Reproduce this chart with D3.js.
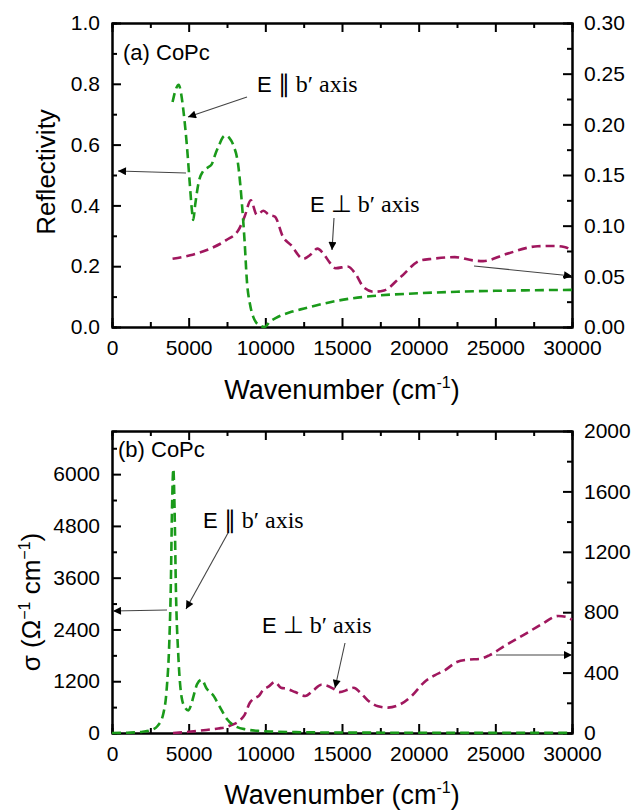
<!DOCTYPE html>
<html>
<head>
<meta charset="utf-8">
<script src="https://cdn.jsdelivr.net/npm/d3@7"></script>
<style>
  body { margin: 0; background: #fff; }
  text { font-family: "Liberation Sans", Arial, sans-serif; fill: #000; }
  .serif { font-family: "Liberation Serif", "Times New Roman", serif; }
  .axis path, .axis line { stroke: #000; stroke-width: 2; }
  .axis text { font-size: 21px; }
</style>
</head>
<body>
<script>
var width = 634,
  height = 810;

// x range shared by both panels
var xDomain = [0, 30000],
  xTicks = [0, 5000, 10000, 15000, 20000, 25000, 30000];

// (a) reflectivity, E || b' (left axis)
var reflParX = [3950, 4150, 4350, 4500, 4650, 4870, 5090, 5200, 5300, 5420, 5670, 5950, 6250, 6500, 6750, 7000, 7200, 7400, 7650, 7900, 8250, 8450, 8650, 8800, 9000, 9200, 9400, 9650, 9950, 10300, 10700, 11700, 12300, 13300, 15100, 17000, 20000, 22500, 25000, 27500, 30000];
var reflParY = [0.74, 0.78, 0.797, 0.77, 0.715, 0.605, 0.46, 0.39, 0.352, 0.40, 0.48, 0.513, 0.525, 0.535, 0.57, 0.60, 0.622, 0.63, 0.622, 0.60, 0.525, 0.42, 0.28, 0.15, 0.075, 0.035, 0.015, 0.005, 0.0, 0.018, 0.03, 0.05, 0.058, 0.071, 0.09, 0.102, 0.111, 0.116, 0.119, 0.121, 0.122];

// (a) reflectivity, E perp b' (right axis)
var reflPerpX = [3950, 5100, 6400, 7450, 8250, 8650, 9050, 9450, 9880, 10230, 10620, 11150, 11680, 12470, 13000, 13390, 13790, 14180, 14580, 15370, 15900, 16420, 17080, 17740, 18800, 20110, 20900, 22360, 23540, 24200, 25650, 27760, 28800, 29500, 30000];
var reflPerpY = [0.0673, 0.0707, 0.0773, 0.0857, 0.0957, 0.109, 0.125, 0.1107, 0.1147, 0.1107, 0.109, 0.089, 0.0807, 0.0673, 0.072, 0.0773, 0.0723, 0.064, 0.058, 0.0597, 0.052, 0.039, 0.0347, 0.036, 0.049, 0.0657, 0.0673, 0.069, 0.0657, 0.065, 0.0717, 0.0797, 0.080, 0.079, 0.0752];

// (b) conductivity, E || b' (left axis)
var sigParX = [0, 1000, 1500, 2000, 2500, 3000, 3350, 3560, 3740, 3830, 3920, 4000, 4080, 4170, 4330, 4540, 4750, 4980, 5150, 5300, 5560, 5850, 6170, 6400, 6610, 6820, 7040, 7480, 8130, 8780, 9650, 10500, 12000, 14000, 17000, 20000, 25000, 30000];
var sigParY = [0, 5, 15, 30, 62, 175, 450, 990, 2140, 3300, 5300, 6120, 5200, 3300, 1760, 830, 600, 525, 640, 830, 1140, 1235, 1030, 940, 870, 740, 600, 330, 140, 80, 46, 32, 20, 12, 8, 5, 3, 3];

// (b) conductivity, E perp b' (right axis)
var sigPerpX = [3980, 5000, 5960, 6930, 7480, 7720, 8350, 8650, 8990, 9170, 9440, 9570, 9830, 10230, 10620, 11020, 11410, 11940, 12600, 13130, 13650, 13920, 14450, 14840, 15370, 15770, 16160, 16690, 17350, 18000, 18800, 19590, 20380, 21040, 21700, 22490, 23280, 23940, 24600, 25650, 26970, 28020, 29100, 29600, 30000];
var sigPerpY = [0, 8, 18, 30, 40, 50, 84, 120, 200, 222, 238, 245, 282, 309, 338, 300, 293, 271, 245, 282, 320, 316, 293, 271, 286, 300, 271, 216, 177, 168, 190, 250, 338, 382, 415, 470, 486, 490, 514, 580, 657, 720, 775, 770, 750];

// axis ticks
var reflLeftTicks = [0, 0.2, 0.4, 0.6, 0.8, 1.0],
  reflRightTicks = [0, 0.05, 0.10, 0.15, 0.20, 0.25, 0.30],
  sigLeftTicks = [0, 1200, 2400, 3600, 4800, 6000],
  sigRightTicks = [0, 400, 800, 1200, 1600, 2000];

var green = "#1a9a1a",
  wine = "#a0175e";

var svg = d3.select("body").append("svg")
  .attr("width", width)
  .attr("height", height);

svg.append("defs").append("marker")
  .attr("id", "head")
  .attr("viewBox", "0 0 10 10")
  .attr("refX", 10)
  .attr("refY", 5)
  .attr("markerWidth", 13)
  .attr("markerHeight", 8)
  .attr("markerUnits", "userSpaceOnUse")
  .attr("orient", "auto")
  .append("path")
  .attr("d", "M0,0L10,5L0,10z")
  .attr("fill", "#000");

function zip(xs, ys) {
  return xs.map(function (x, i) { return [x, ys[i]]; });
}

function minorOf(ticks) {
  var out = [];
  for (var i = 0; i < ticks.length - 1; i++) out.push((ticks[i] + ticks[i + 1]) / 2);
  return out;
}

function panel(opt) {
  var g = svg.append("g");
  var x = d3.scaleLinear().domain(xDomain).range([opt.left, opt.right]);
  var yL = d3.scaleLinear().domain(opt.leftDomain).range([opt.bottom, opt.top]);
  var yR = d3.scaleLinear().domain(opt.rightDomain).range([opt.bottom, opt.top]);

  // minor ticks
  g.append("g").attr("class", "axis").attr("transform", "translate(0," + opt.bottom + ")")
    .call(d3.axisBottom(x).tickValues(minorOf(xTicks)).tickSize(-5).tickFormat(""));
  g.append("g").attr("class", "axis").attr("transform", "translate(0," + opt.top + ")")
    .call(d3.axisTop(x).tickValues(minorOf(xTicks)).tickSize(-5).tickFormat(""));
  g.append("g").attr("class", "axis").attr("transform", "translate(" + opt.left + ",0)")
    .call(d3.axisLeft(yL).tickValues(minorOf(opt.leftTicks).concat(opt.leftExtraMinor || [])).tickSize(-5).tickFormat(""));
  g.append("g").attr("class", "axis").attr("transform", "translate(" + opt.right + ",0)")
    .call(d3.axisRight(yR).tickValues(minorOf(opt.rightTicks)).tickSize(-5).tickFormat(""));

  // major ticks
  g.append("g").attr("class", "axis").attr("transform", "translate(0," + opt.bottom + ")")
    .call(d3.axisBottom(x).tickValues(xTicks).tickSize(-9).tickSizeOuter(0).tickPadding(13).tickFormat(d3.format("d")));
  g.append("g").attr("class", "axis").attr("transform", "translate(0," + opt.top + ")")
    .call(d3.axisTop(x).tickValues(xTicks).tickSize(-9).tickSizeOuter(0).tickFormat(""));
  g.append("g").attr("class", "axis").attr("transform", "translate(" + opt.left + ",0)")
    .call(d3.axisLeft(yL).tickValues(opt.leftTicks).tickSize(-9).tickSizeOuter(0).tickPadding(12).tickFormat(opt.leftFormat));
  g.append("g").attr("class", "axis").attr("transform", "translate(" + opt.right + ",0)")
    .call(d3.axisRight(yR).tickValues(opt.rightTicks).tickSize(-9).tickSizeOuter(0).tickPadding(12).tickFormat(opt.rightFormat));

  var lineL = d3.line().x(function (d) { return x(d[0]); }).y(function (d) { return yL(d[1]); }).curve(d3.curveMonotoneX);
  var lineR = d3.line().x(function (d) { return x(d[0]); }).y(function (d) { return yR(d[1]); }).curve(d3.curveMonotoneX);

  g.append("path").datum(zip(opt.rightX, opt.rightY))
    .attr("d", lineR).attr("fill", "none").attr("stroke", wine)
    .attr("stroke-width", 2.6).attr("stroke-dasharray", "9,5");
  g.append("path").datum(zip(opt.leftX, opt.leftY))
    .attr("d", lineL).attr("fill", "none").attr("stroke", green)
    .attr("stroke-width", 2.6).attr("stroke-dasharray", "9,5");

  // x title
  var xt = g.append("text")
    .attr("x", (opt.left + opt.right) / 2)
    .attr("y", opt.xTitleY)
    .attr("text-anchor", "middle")
    .style("font-size", "27px");
  xt.append("tspan").text("Wavenumber (cm");
  xt.append("tspan").attr("dy", -11).style("font-size", "16px").text("-1");
  xt.append("tspan").attr("dy", 11).text(")");

  return { g: g, x: x, yL: yL, yR: yR };
}

function arrow(g, x1, y1, x2, y2) {
  g.append("line")
    .attr("x1", x1).attr("y1", y1).attr("x2", x2).attr("y2", y2)
    .attr("stroke", "#444").attr("stroke-width", 1.1)
    .attr("marker-end", "url(#head)");
}

function polLabel(g, x, y, sym) {
  var t = g.append("text").attr("x", x).attr("y", y).style("font-size", "22px");
  t.append("tspan").text("E ");
  t.append("tspan").attr("class", "serif").style("font-size", "24px").text(sym + " b\u2032 axis");
}

// (a) reflectivity
var a = panel({
  left: 112, right: 572, top: 23, bottom: 327,
  leftDomain: [0, 1], rightDomain: [0, 0.3],
  leftTicks: reflLeftTicks, rightTicks: reflRightTicks,
  leftFormat: d3.format(".1f"), rightFormat: d3.format(".2f"),
  leftX: reflParX, leftY: reflParY, rightX: reflPerpX, rightY: reflPerpY,
  xTitleY: 399
});

a.g.append("text")
  .attr("transform", "translate(55," + 172 + ")rotate(-90)")
  .attr("text-anchor", "middle")
  .style("font-size", "26px")
  .text("Reflectivity");

a.g.append("text").attr("x", 123).attr("y", 60).style("font-size", "22px").text("(a) CoPc");
polLabel(a.g, 257, 92, "\u2225");
polLabel(a.g, 310, 212, "\u22a5");
arrow(a.g, 247, 97, 188, 117);
arrow(a.g, 186, 173, 118, 171);
arrow(a.g, 334, 218, 332, 250);
arrow(a.g, 474, 266, 572, 276);

// (b) optical conductivity
var b = panel({
  left: 112, right: 572, top: 431, bottom: 733,
  leftDomain: [0, 7000], rightDomain: [0, 2000],
  leftTicks: sigLeftTicks, rightTicks: sigRightTicks, leftExtraMinor: [6600],
  leftFormat: d3.format("d"), rightFormat: d3.format("d"),
  leftX: sigParX, leftY: sigParY, rightX: sigPerpX, rightY: sigPerpY,
  xTitleY: 804
});

var yt = b.g.append("text")
  .attr("transform", "translate(40," + 602 + ")rotate(-90)")
  .attr("text-anchor", "middle")
  .style("font-size", "26px");
yt.append("tspan").text("\u03c3 (\u03a9");
yt.append("tspan").attr("dy", -10).style("font-size", "16px").text("\u22121");
yt.append("tspan").attr("dy", 10).text(" cm");
yt.append("tspan").attr("dy", -10).style("font-size", "16px").text("\u22121");
yt.append("tspan").attr("dy", 10).text(")");

b.g.append("text").attr("x", 118).attr("y", 457).style("font-size", "22px").text("(b) CoPc");
polLabel(b.g, 203, 528, "\u2225");
polLabel(b.g, 262, 633, "\u22a5");
arrow(b.g, 228, 533, 186, 609);
arrow(b.g, 167, 610, 113, 611);
arrow(b.g, 345, 643, 335, 688);
arrow(b.g, 496, 655, 572, 655);
</script>
</body>
</html>
